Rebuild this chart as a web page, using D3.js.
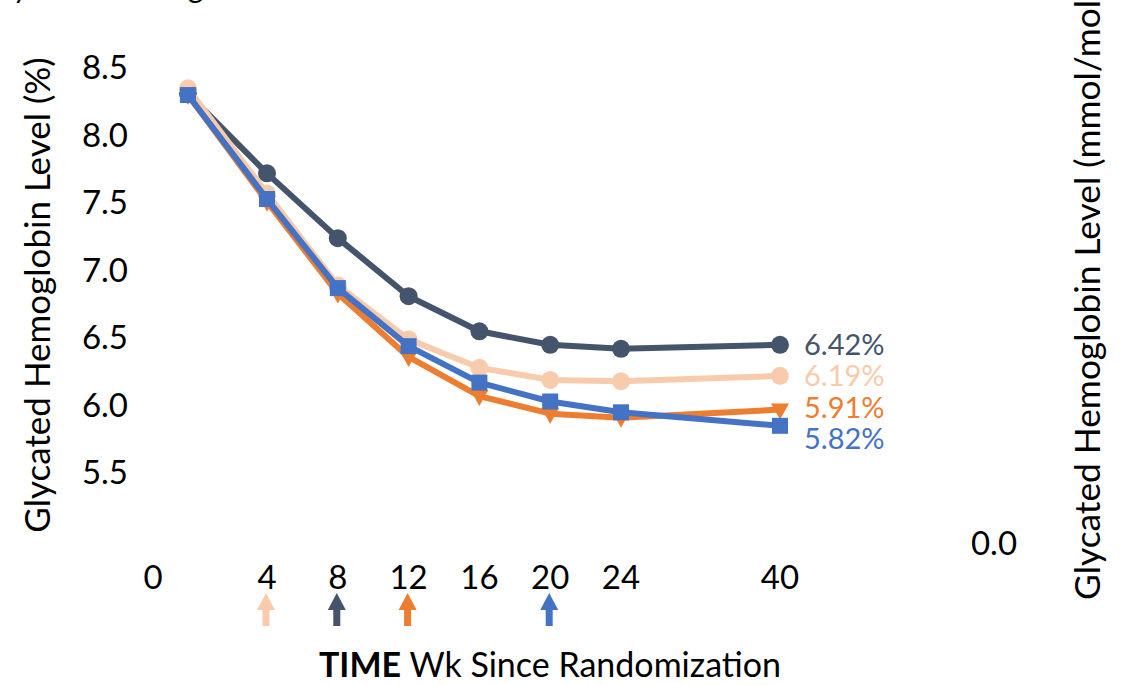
<!DOCTYPE html>
<html>
<head>
<meta charset="utf-8">
<script src="https://cdn.jsdelivr.net/npm/d3@7"></script>
<style>
  html, body { margin: 0; padding: 0; background: #fff; }
  svg { display: block; font-family: Lato, "Open Sans", sans-serif; }
</style>
</head>
<body>
<svg id="chart" width="1125" height="685"></svg>
<script>
// ---- data ----
const weeks = [0, 4, 8, 12, 16, 20, 24, 40];
const xTickLabels = ["0", "4", "8", "12", "16", "20", "24", "40"];
const yTicks = [5.5, 6.0, 6.5, 7.0, 7.5, 8.0, 8.5];
const seriesNames = ["navy", "peach", "orange", "blue"];
const navyValues   = [8.28, 7.69, 7.21, 6.78, 6.52, 6.42, 6.39, 6.42];
const peachValues  = [8.32, 7.54, 6.86, 6.46, 6.25, 6.16, 6.15, 6.19];
const orangeValues = [8.27, 7.48, 6.80, 6.33, 6.04, 5.91, 5.88, 5.94];
const blueValues   = [8.27, 7.50, 6.84, 6.41, 6.14, 6.00, 5.92, 5.82];
const endLabels = ["6.42%", "6.19%", "5.91%", "5.82%"];
const arrowWeeks = [4, 8, 12, 20];
const arrowSeries = ["peach", "navy", "orange", "blue"];
const rightTickLabels = ["0.0"];

const colors = { navy: "#44546A", peach: "#F8CBAD", orange: "#ED7D31", blue: "#4472C4" };
const markers = { navy: "circle", peach: "circle", orange: "triangle", blue: "square" };
const valuesBy = { navy: navyValues, peach: peachValues, orange: orangeValues, blue: blueValues };

const svg = d3.select("#chart");

// scales
const x = d3.scaleLinear().domain([0, 4, 24, 40]).range([188, 267, 621, 780]);
const y = d3.scaleLinear().domain([5.5, 8.5]).range([469, 64]);

// cut-off title at very top
svg.append("text").attr("x", -16).attr("y", -2)
  .attr("font-size", 30).attr("fill", "#000").text("Glycated Hemoglobin");

// left axis labels
const yAxis = d3.axisLeft(y).tickValues(yTicks).tickSize(0).tickPadding(0)
  .tickFormat(d3.format(".1f"));
const yg = svg.append("g").attr("transform", "translate(128,4)").call(yAxis);
yg.select(".domain").remove();
yg.selectAll("text").attr("font-size", 33).attr("font-family", "Lato").attr("fill", "#000");

// left axis title
svg.append("text")
  .attr("transform", "translate(50,295) rotate(-90)")
  .attr("text-anchor", "middle").attr("font-size", 35).attr("fill", "#000")
  .text("Glycated Hemoglobin Level (%)");

// x tick labels
const xg = svg.append("g");
xg.selectAll("text").data(weeks).join("text")
  .attr("x", (d, i) => i === 0 ? x(d) - 35 : x(d))
  .attr("y", 589)
  .attr("text-anchor", "middle").attr("font-size", 33).attr("fill", "#000")
  .text((d, i) => xTickLabels[i]);

// x axis title
const xt = svg.append("text").attr("x", 550).attr("y", 677)
  .attr("text-anchor", "middle").attr("font-size", 34).attr("fill", "#000");
xt.append("tspan").attr("font-weight", "bold").text("TIME");
xt.append("tspan").text(" Wk Since Randomization");

// lines
const line = d3.line().x((d, i) => x(weeks[i])).y(d => y(d));
seriesNames.forEach(name => {
  const vals = valuesBy[name];
  const g = svg.append("g");
  g.append("path").datum(vals).attr("d", line)
    .attr("fill", "none").attr("stroke", colors[name]).attr("stroke-width", 6)
    .attr("stroke-linejoin", "round");
  const pts = g.selectAll(".m").data(vals).join("g")
    .attr("transform", (d, i) => `translate(${x(weeks[i])},${y(d)})`);
  if (markers[name] === "circle") {
    pts.append("circle").attr("r", 9).attr("fill", colors[name]);
  } else if (markers[name] === "square") {
    pts.append("rect").attr("x", -8).attr("y", -8).attr("width", 16).attr("height", 16)
      .attr("fill", colors[name]);
  } else {
    pts.append("path").attr("d", "M-9,-6 L9,-6 L0,10 Z").attr("fill", colors[name]);
  }
});

// end labels (stacked beside the last points)
const lastIdx = weeks.length - 1;
const labelTop = y(navyValues[lastIdx]);
svg.append("g").selectAll("text").data(endLabels).join("text")
  .attr("x", 804)
  .attr("y", (d, i) => labelTop + i * 31.5 + 10)
  .attr("font-size", 29)
  .attr("fill", (d, i) => colors[seriesNames[i]])
  .text(d => d);

// arrows
const arrowPath = "M0,0 L9,17 L3.5,17 L3.5,33 L-3.5,33 L-3.5,17 L-9,17 Z";
svg.append("g").selectAll("path").data(arrowWeeks).join("path")
  .attr("transform", d => `translate(${x(d) - 1},593)`)
  .attr("d", arrowPath)
  .attr("fill", (d, i) => colors[arrowSeries[i]]);

// right axis
svg.append("text").attr("x", 994).attr("y", 555).attr("text-anchor", "middle")
  .attr("font-size", 33).attr("fill", "#000").text(rightTickLabels[0]);
svg.append("text")
  .attr("transform", "translate(1100,600) rotate(-90)")
  .attr("text-anchor", "start").attr("font-size", 35.3).attr("fill", "#000")
  .text("Glycated Hemoglobin Level (mmol/mol)");
</script>
</body>
</html>
